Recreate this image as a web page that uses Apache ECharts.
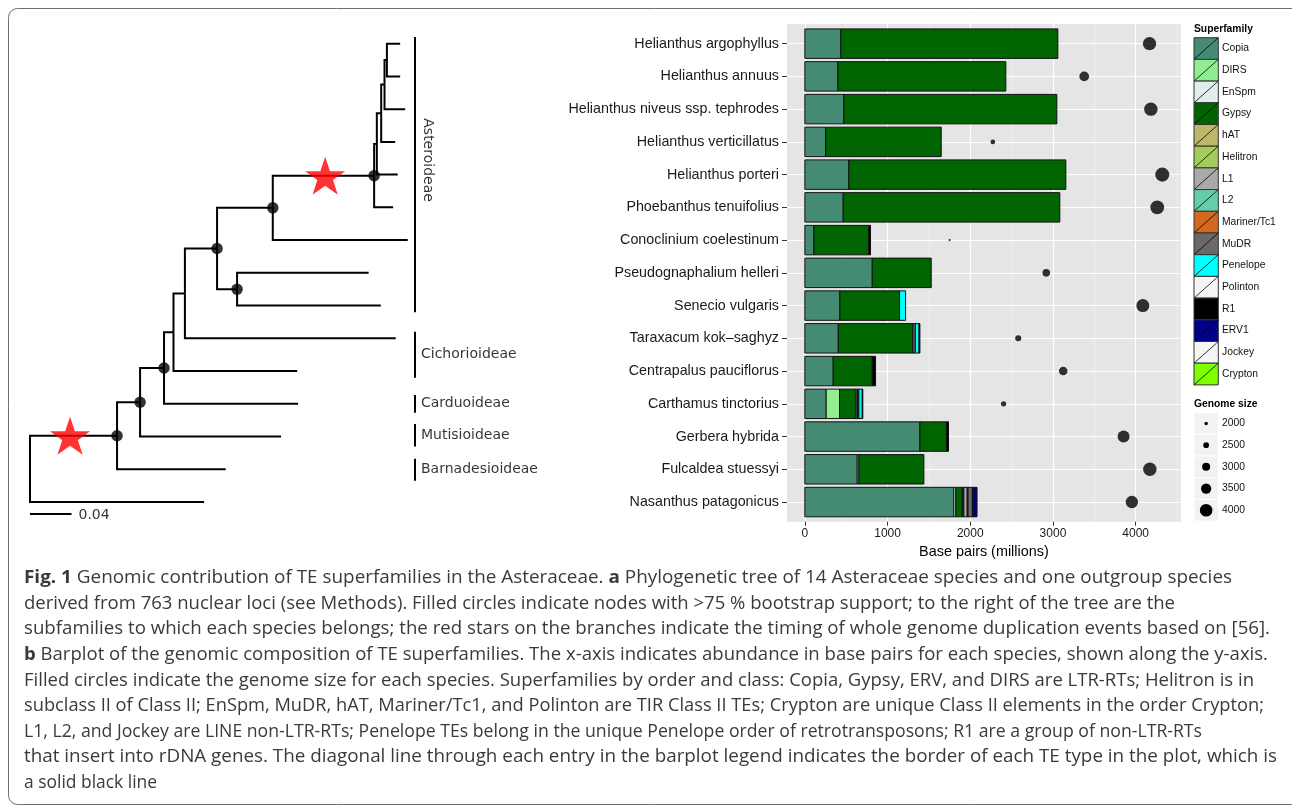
<!DOCTYPE html>
<html><head><meta charset="utf-8">
<script src="https://cdn.jsdelivr.net/npm/echarts@6/dist/echarts.min.js"></script>
<style>html,body{margin:0;padding:0;background:#fff}#c{width:1292px;height:809px}</style>
</head><body><div id="c"></div><script>
// ---------- DATA ----------
const species = ['Helianthus argophyllus','Helianthus annuus','Helianthus niveus ssp. tephrodes','Helianthus verticillatus','Helianthus porteri','Phoebanthus tenuifolius','Conoclinium coelestinum','Pseudognaphalium helleri','Senecio vulgaris','Taraxacum kok\u2013saghyz','Centrapalus pauciflorus','Carthamus tinctorius','Gerbera hybrida','Fulcaldea stuessyi','Nasanthus patagonicus'];
const superfamilies = ['Copia','DIRS','EnSpm','Gypsy','hAT','Helitron','L1','L2','Mariner/Tc1','MuDR','Penelope','Polinton','R1','ERV1','Jockey','Crypton'];
const familyColors = ['#458B74','#90EE90','#E0EEEE','#006400','#BDB76B','#A2CD5A','#A9A9A9','#66CDAA','#D2691E','#696969','#00FFFF','#F5F5F5','#000000','#00008B','#F5F5F5','#7FFF00'];
// values in Mb, one per species (same order as species)
const copia    = [435,399,472,250,532,464,109,815,423,404,343,258,1391,633,1802];
const dirs     = [0,0,0,0,0,0,0,0,0,0,0,161,0,0,0];
const enspm    = [0,0,0,0,0,0,0,0,0,0,0,0,0,20,24];
const gypsy    = [2624,2031,2575,1399,2624,2619,665,713,722,902,472,202,322,786,77];
const hat      = [0,0,0,0,0,0,0,0,0,0,0,0,0,0,10];
const helitron = [0,0,0,0,0,0,0,0,0,0,0,0,0,0,10];
const l1       = [0,0,0,0,0,0,0,0,0,0,0,16,0,0,40];
const l2       = [0,0,0,0,0,0,0,0,0,0,0,0,0,0,0];
const mariner  = [0,0,0,0,0,0,0,0,0,0,0,0,0,0,10];
const mudr     = [0,0,0,0,0,0,0,0,0,30,0,16,0,0,53];
const penelope = [0,0,0,0,0,0,0,0,73,45,0,41,0,0,0];
const polinton = [0,0,0,0,0,0,0,0,0,0,0,0,0,0,0];
const r1       = [0,0,0,0,0,0,20,0,0,10,40,7,24,0,16];
const erv1     = [0,0,0,0,0,0,0,0,0,0,0,0,0,0,40];
const jockey   = [0,0,0,0,0,0,0,0,0,0,0,0,0,0,0];
const crypton  = [0,0,0,0,0,0,0,0,0,0,0,0,0,0,0];
const familyValues = [copia,dirs,enspm,gypsy,hat,helitron,l1,l2,mariner,mudr,penelope,polinton,r1,erv1,jockey,crypton];
const genomeSize = [4168,3378,4184,2273,4322,4261,1750,2919,4087,2580,3124,2403,3854,4172,3954];
const genomeBreaks = [2000,2500,3000,3500,4000];
const xTicks = [0,1000,2000,3000,4000];
const xMinorTicks = [500,1500,2500,3500,4500];

// phylogeny: tip depth per species row, internal nodes [depth, children, support>75%]
const tipDepth = [0.3568,0.3568,0.3616,0.3520,0.3544,0.3500,0.3641,0.3264,0.3381,0.3525,0.2575,0.2584,0.2420,0.1886,0.1678];
const treeNodes = {
  N13:[0.3440,[0,1],false],
  N12:[0.3417,['N13',2],false],
  N11:[0.3385,['N12',3],false],
  N10:[0.3343,['N11',4],false],
  N9: [0.3317,['N10',5],true],
  N8: [0.2340,['N9',6],true],
  N7: [0.1996,[7,8],true],
  N6: [0.1803,['N8','N7'],true],
  N5: [0.1493,['N6',9],false],
  N4: [0.1383,['N5',10],false],
  N3: [0.1292,['N4',11],true],
  N2: [0.1061,['N3',12],true],
  N1: [0.0839,['N2',13],true],
  root:[0,['N1',14],false]
};
const wgdStars = [['N1',0.0386],['N9',0.2845]]; // [child node of branch, depth]
const subfamilies = [['Asteroideae',-0.2,8.2],['Cichorioideae',8.8,10.2],['Carduoideae',10.73,11.27],['Mutisioideae',11.62,12.3],['Barnadesioideae',12.68,13.35]];
const scaleBar = 0.04;
const captionLines = [
 '{b|Fig. 1} Genomic contribution of TE superfamilies in the Asteraceae. {b|a} Phylogenetic tree of 14 Asteraceae species and one outgroup species',
 'derived from 763 nuclear loci (see Methods). Filled circles indicate nodes with >75 % bootstrap support; to the right of the tree are the',
 'subfamilies to which each species belongs; the red stars on the branches indicate the timing of whole genome duplication events based on [56].',
 '{b|b} Barplot of the genomic composition of TE superfamilies. The x-axis indicates abundance in base pairs for each species, shown along the y-axis.',
 'Filled circles indicate the genome size for each species. Superfamilies by order and class: Copia, Gypsy, ERV, and DIRS are LTR-RTs; Helitron is in',
 'subclass II of Class II; EnSpm, MuDR, hAT, Mariner/Tc1, and Polinton are TIR Class II TEs; Crypton are unique Class II elements in the order Crypton;',
 'L1, L2, and Jockey are LINE non-LTR-RTs; Penelope TEs belong in the unique Penelope order of retrotransposons; R1 are a group of non-LTR-RTs',
 'that insert into rDNA genes. The diagonal line through each entry in the barplot legend indicates the border of each TE type in the plot, which is',
 'a solid black line'
];

// ---------- LAYOUT (caption line right edges measured on the figure, px) ----------
const captionRight = [1232,1175,1270,1268,1254,1264,1202,1277,157];

// ---------- BUILD ----------
const FONT = 'Liberation Sans, Arial, Helvetica, sans-serif';
const rows = species.map((s,i)=>i);
const segs = [];
species.forEach((s,i)=>{
  let acc = 0;
  familyValues.forEach((arr,f)=>{ const v = arr[i]; if (v>0){ segs.push([acc, acc+v, i, f]); acc += v; } });
});
function pos(c){
  if (typeof c === 'number') return {x: tipDepth[c], y: c};
  const n = treeNodes[c]; const ys = n[1].map(k=>pos(k).y);
  return {x: n[0], y: ys.reduce((a,b)=>a+b,0)/ys.length};
}
const branchLines = [];
const supportPts = [];
Object.keys(treeNodes).forEach(k=>{
  const p = pos(k);
  treeNodes[k][1].forEach(c=>{ const q = pos(c); branchLines.push({coords:[[p.x,p.y],[p.x,q.y],[q.x,q.y]]}); });
  if (treeNodes[k][2]) supportPts.push([p.x,p.y]);
});
const starPts = wgdStars.map(s=>[s[1], pos(s[0]).y]);
const bracketX = 0.3706;
const bracketLines = subfamilies.map(s=>({coords:[[bracketX,s[1]],[bracketX,s[2]]]}));
const labelPts = subfamilies.slice(1).map(s=>({value:[bracketX,(s[1]+s[2])/2], name:s[0]}));
// size scale for genome-size dots (px diameter)
const dotSize = v => Math.max(1.6, 4.6*v/1000 - 5.8);
const STAR = 'path://M50,0 L61.8,35.1 L98.9,35.1 L69.1,56.7 L80.9,91.9 L50,70.2 L19.1,91.9 L30.9,56.7 L1.1,35.1 L38.2,35.1 Z';

const graphics = [];
graphics.push({type:'rect', silent:true, shape:{x:8.5,y:8.5,width:1320,height:796,r:9}, style:{fill:'none',stroke:'#6e6e6e',lineWidth:1}});
// superfamily legend
graphics.push({type:'text', style:{text:'Superfamily', x:1194, y:29, fontFamily:FONT, fontSize:10.3, fontWeight:'bold', fill:'#000', verticalAlign:'middle'}});
const kx=1194, kw=24.3, kh=21.7, ky0=37.7;
superfamilies.forEach((nm,i)=>{
  const y = ky0 + i*kh;
  graphics.push({type:'rect', shape:{x:kx,y:y,width:kw,height:kh}, style:{fill:familyColors[i], stroke:'#333', lineWidth:1}});
  graphics.push({type:'line', shape:{x1:kx,y1:y+kh,x2:kx+kw,y2:y}, style:{stroke:'#000', lineWidth:0.8}});
  graphics.push({type:'text', style:{text:nm, x:1222, y:y+kh/2, fontFamily:FONT, fontSize:10.3, fill:'#111', verticalAlign:'middle'}});
});
graphics.push({type:'text', style:{text:'Genome size', x:1194, y:404, fontFamily:FONT, fontSize:10.3, fontWeight:'bold', fill:'#000', verticalAlign:'middle'}});
genomeBreaks.forEach((b,i)=>{
  const y = 412.6 + i*kh;
  graphics.push({type:'rect', shape:{x:kx,y:y,width:kw,height:kh}, style:{fill:'#F2F2F2', stroke:'#fff', lineWidth:1}});
  graphics.push({type:'circle', shape:{cx:kx+kw/2, cy:y+kh/2, r:dotSize(b)/2}, style:{fill:'#000'}});
  graphics.push({type:'text', style:{text:String(b), x:1222, y:y+kh/2, fontFamily:FONT, fontSize:10.3, fill:'#111', verticalAlign:'middle'}});
});
// caption (each line stretched horizontally to the measured line length)
const CAPF = '"Open Sans", "Noto Sans", sans-serif';
const CAPS = 18.4;
const mctx = document.createElement('canvas').getContext('2d');
function measureRich(t){
  const parts = t.split(/\{b\|([^}]*)\}/);
  let w = 0;
  parts.forEach((p,j)=>{ mctx.font = (j%2 ? 'bold ' : '') + CAPS + 'px ' + CAPF; w += mctx.measureText(p).width; });
  return w;
}
captionLines.forEach((t,i)=>{
  const sx = (captionRight[i]-24)/measureRich(t);
  graphics.push({type:'text', x:24, y:578+i*25.6, scaleX:sx, style:{text:t, x:0, y:0, fontFamily:CAPF, fontSize:CAPS, fill:'#3a3a3a', verticalAlign:'middle',
    rich:{b:{fontFamily:CAPF, fontSize:CAPS, fontWeight:'bold', fill:'#3a3a3a'}}}});
});

const chart = echarts.init(document.getElementById('c'), null, {renderer:'canvas'});
chart.setOption({
  animation:false,
  backgroundColor:'#fff',
  grid:[
    {left:30, top:24, width:415, height:497.7, show:false},
    {left:787, top:24, width:393.8, height:497.7, show:true, backgroundColor:'#E5E5E5', borderWidth:0}
  ],
  xAxis:[
    {gridIndex:0, type:'value', min:0, max:0.4, show:false},
    {gridIndex:1, type:'value', min:-216, max:4546, position:'bottom',
      axisLine:{show:false, onZero:false},
      axisTick:{show:true, length:4, lineStyle:{color:'#333'}, customValues:xTicks},
      axisLabel:{show:true, customValues:xTicks, formatter:v=>String(v), fontFamily:FONT, fontSize:12, color:'#1a1a1a', margin:6},
      splitLine:{show:true, lineStyle:{color:'#fff', width:1.2}},
      name:'Base pairs (millions)', nameLocation:'middle', nameGap:16,
      nameTextStyle:{fontFamily:FONT, fontSize:14.4, color:'#000'}},
    {gridIndex:1, type:'value', min:-216, max:4546, position:'top',
      axisLine:{show:false, onZero:false}, axisLabel:{show:false}, axisTick:{show:false, customValues:xMinorTicks},
      splitLine:{show:true, lineStyle:{color:'#F4F4F4', width:0.7}}}
  ],
  yAxis:[
    {gridIndex:0, type:'value', min:-0.6, max:14.6, inverse:true, show:false},
    {gridIndex:1, type:'value', min:-0.6, max:14.6, inverse:true, position:'left',
      axisLine:{show:false, onZero:false},
      axisTick:{show:true, length:5, lineStyle:{color:'#333'}, customValues:rows},
      axisLabel:{show:true, customValues:rows, formatter:v=>species[Math.round(v)], fontFamily:FONT, fontSize:14.3, color:'#1a1a1a', margin:8},
      splitLine:{show:true, lineStyle:{color:'#fff', width:1.2}}}
  ],
  series:[
    {type:'lines', coordinateSystem:'cartesian2d', xAxisIndex:0, yAxisIndex:0, polyline:true, silent:true,
      data:branchLines, lineStyle:{color:'#000', width:2, opacity:1}},
    {type:'lines', coordinateSystem:'cartesian2d', xAxisIndex:0, yAxisIndex:0, polyline:false, silent:true,
      data:bracketLines.concat([{coords:[[0,14.35],[scaleBar,14.35]]}]), lineStyle:{color:'#000', width:2, opacity:1}},
    {type:'scatter', xAxisIndex:0, yAxisIndex:0, data:supportPts, symbol:'circle', symbolSize:11.5, itemStyle:{color:'#000'}, z:3},
    {type:'scatter', xAxisIndex:0, yAxisIndex:0, data:starPts, symbol:STAR, symbolSize:[40,38], itemStyle:{color:'#FF0000'}, z:4},
    {type:'scatter', xAxisIndex:0, yAxisIndex:0, data:labelPts, symbolSize:0,
      label:{show:true, position:'right', distance:6.5, formatter:p=>p.name, fontFamily:'DejaVu Sans', fontSize:14, color:'#000'}},
    {type:'scatter', xAxisIndex:0, yAxisIndex:0, data:[{value:[0.3829,3.555], name:subfamilies[0][0]}], symbolSize:0,
      label:{show:true, position:'inside', rotate:-90, formatter:p=>p.name, fontFamily:'DejaVu Sans', fontSize:14, color:'#000'}},
    {type:'scatter', xAxisIndex:0, yAxisIndex:0, data:[{value:[scaleBar,14.42], name:String(scaleBar)}], symbolSize:0,
      label:{show:true, position:'right', distance:7, formatter:p=>p.name, fontFamily:'DejaVu Sans', fontSize:14, color:'#000'}},
    {type:'custom', xAxisIndex:1, yAxisIndex:1, data:segs, encode:{x:[0,1], y:2},
      renderItem:(params, api)=>{
        const s=api.value(0), e=api.value(1), r=api.value(2), f=api.value(3);
        const p0=api.coord([s,r]), p1=api.coord([e,r]);
        const h=Math.abs(api.size([0,0.9])[1]);
        return {type:'rect', shape:{x:p0[0], y:p0[1]-h/2, width:p1[0]-p0[0], height:h},
          style:{fill:familyColors[f], stroke:'#111', lineWidth:1}};
      }, z:3},
    {type:'scatter', xAxisIndex:1, yAxisIndex:1, data:genomeSize.map((g,i)=>[g,i]),
      symbolSize:d=>dotSize(d[0]), itemStyle:{color:'#000'}, z:4}
  ],
  graphic:graphics
});
</script></body></html>
